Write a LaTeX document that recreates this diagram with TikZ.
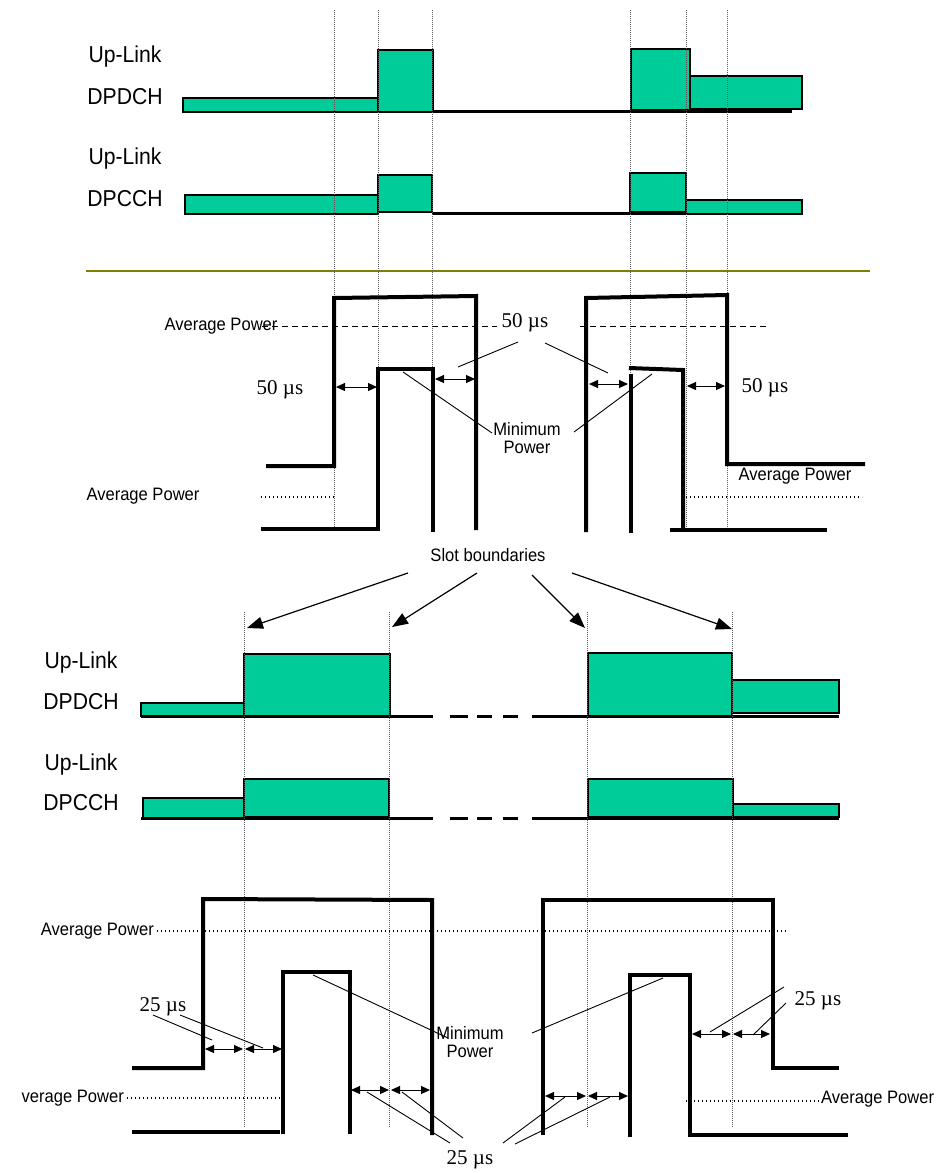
\documentclass[tikz,border=0pt]{standalone}
\usepackage{fontspec}
\usepackage{graphicx}
\setmainfont{Liberation Sans}
\newfontfamily\serifmu{Liberation Serif}
\usetikzlibrary{arrows.meta}
\definecolor{chgreen}{RGB}{0,204,153}
\definecolor{olivebar}{RGB}{128,128,0}
\newcommand\ulfont{\fontsize{23}{26}\selectfont}
\newcommand\apfont{\fontsize{18}{20}\selectfont}
\newcommand\usfont{\serifmu\fontsize{21}{24}\selectfont}
\newcommand\cnd[1]{\scalebox{0.92}[1]{#1}}
\begin{document}
\begin{tikzpicture}[x=1pt,y=-1pt,
  pulse/.style={line width=4pt, line join=miter},
  bar/.style={fill=chgreen, draw=black, line width=1.3pt},
  baseln/.style={line width=3pt},
  slotln/.style={line width=0.8pt, gray!70!black, dash pattern=on 1pt off 1pt},
  avgdash/.style={line width=0.9pt, dash pattern=on 6pt off 4pt},
  avgdot/.style={line width=1.3pt, dash pattern=on 1.3pt off 2.7pt},
  lead/.style={line width=0.9pt},
  dbl/.style={line width=1pt, {Triangle[length=9pt,width=8pt]}-{Triangle[length=9pt,width=8pt]}},
  slotarr/.style={line width=1.2pt, -{Triangle[length=16pt,width=12pt]}},
  ul/.style={font=\ulfont, inner sep=0pt},
  ap/.style={font=\apfont, inner sep=0pt, align=center},
  us/.style={font=\usfont, inner sep=0pt},
]
\useasboundingbox[fill=white] (0,0) rectangle (936,1173);

% ===== top bars =====
\node[ul] (ul1) at (125,57) {\cnd{Up-Link}};
\node[ul] (dp1) at (125,97) {\cnd{DPDCH}};
\node[ul] (ul2) at (125,159) {\cnd{Up-Link}};
\node[ul] (dc1) at (125,199) {\cnd{DPCCH}};

\draw[baseln] (433,111) -- (792,111);
\draw[bar] (183,98) rectangle (378,112);
\draw[bar] (378,50) rectangle (433,112);
\draw[bar] (631,49) rectangle (690,110);
\draw[bar] (690,76) rectangle (802,109);

\draw[baseln] (432,213) -- (686,213);
\draw[bar] (185,195) rectangle (378,214);
\draw[bar] (378,175) rectangle (432,212);
\draw[bar] (683,200) rectangle (802,214);
\draw[bar] (630,173) rectangle (686,212);

\draw[olivebar, line width=2pt] (86,271) -- (870,271);

% ===== middle power =====
\foreach \x in {334,378,432,630,686,727} \draw[slotln] (\x,10) -- (\x,530);

\draw[avgdash] (262,326) -- (497,326);
\draw[avgdash] (580,326) -- (768,326);
\node[ap] (avgA) at (221,326) {\cnd{Average Power}};
\node[ap] (avgB) at (143,496) {\cnd{Average Power}};
\node[ap] (avgC) at (795,476) {\cnd{Average Power}};
\draw[avgdot] (261,497) -- (334,497);
\draw[avgdot] (686,497) -- (862,497);

\draw[pulse] (266,466) -- (334,466) -- (334,298) -- (476,296) -- (476,530);
\draw[pulse] (261,529) -- (378,529) -- (378,369) -- (433,369) -- (433,532);
\draw[pulse] (586,532) -- (586,298) -- (727,295) -- (727,464) -- (865,464);
\draw[pulse] (631,533) -- (631,374);
\draw[pulse] (629,368) -- (683,370) -- (683,530);
\draw[pulse] (670,530) -- (827,530);

\node[us] (m50a) at (280,390) {50 µs};
\node[us] (m50b) at (525,323) {50 µs};
\node[us] (m50c) at (765,388) {50 µs};
\node[ap] (minA) at (527,438) {\cnd{Minimum}\\[-2pt]\cnd{Power}};

\draw[dbl] (336,387) -- (377,387);
\draw[dbl] (435,379) -- (475,379);
\draw[dbl] (589,384) -- (628,384);
\draw[dbl] (687,386) -- (725,386);

\coordinate (l1) at (458,367);
\coordinate (l2) at (608,373);
\coordinate (l3) at (403,372);
\coordinate (l4) at (652,374);
\draw[lead] (518,342) -- (l1);
\draw[lead] (545,343) -- (l2);
\draw[lead] (l3) -- (492,433);
\draw[lead] (574,432) -- (l4);

% ===== slot boundaries =====
\node[ap] (slot) at (488,555) {\cnd{Slot boundaries}};
\coordinate (s1) at (247,628);
\coordinate (s2) at (392,627);
\coordinate (s3) at (585,628);
\coordinate (s4) at (732,629);
\draw[slotarr] (408,573) -- (s1);
\draw[slotarr] (477,573) -- (s2);
\draw[slotarr] (532,575) -- (s3);
\draw[slotarr] (572,573) -- (s4);

% ===== bottom bars =====
\node[ul] (ul3) at (81,663) {\cnd{Up-Link}};
\node[ul] (dp2) at (81,702) {\cnd{DPDCH}};
\node[ul] (ul4) at (81,765) {\cnd{Up-Link}};
\node[ul] (dc2) at (81,803) {\cnd{DPCCH}};

\foreach \yy in {716,818} {
  \draw[baseln] (141,\yy) -- (433,\yy);
  \draw[baseln] (450,\yy) -- (468,\yy);
  \draw[baseln] (477,\yy) -- (492,\yy);
  \draw[baseln] (503,\yy) -- (518,\yy);
  \draw[baseln] (532,\yy) -- (839,\yy);
}
\draw[bar] (141,703) rectangle (244,716);
\draw[bar] (244,654) rectangle (390,716);
\draw[bar] (588,653) rectangle (732,716);
\draw[bar] (732,680) rectangle (839,713);

\draw[bar] (143,798) rectangle (244,818);
\draw[bar] (244,779) rectangle (389,817);
\draw[bar] (588,779) rectangle (733,817);
\draw[bar] (733,804) rectangle (839,817);

% ===== bottom power =====
\foreach \x in {244,389,587,732} \draw[slotln] (\x,612) -- (\x,1128);

\node[ap, anchor=east] (avgD) at (154,931) {\cnd{Average Power}};
\node[ap, anchor=east] (avgE) at (124,1098) {\cnd{verage Power}};
\node[ap, anchor=west] (avgF) at (821,1099) {\cnd{Average Power}};
\draw[avgdot] (157,931) -- (787,931);
\draw[avgdot] (127,1098) -- (282,1098);
\draw[avgdot] (686,1101) -- (820,1101);

\draw[pulse] (132,1068) -- (203,1068) -- (203,899) -- (432,900) -- (432,1135);
\draw[pulse] (132,1132) -- (280,1132);
\draw[pulse] (283,1134) -- (283,972) -- (350,972) -- (350,1134);
\draw[pulse] (543,1135) -- (543,900) -- (773,900) -- (773,1068) -- (839,1068);
\draw[pulse] (630,1137) -- (630,975) -- (690,975) -- (690,1135) -- (848,1135);

\draw[dbl] (205,1049) -- (243,1049);
\draw[dbl] (245,1049) -- (282,1049);
\draw[dbl] (351,1090) -- (389,1090);
\draw[dbl] (391,1090) -- (430,1090);
\draw[dbl] (545,1096) -- (586,1096);
\draw[dbl] (588,1096) -- (628,1096);
\draw[dbl] (692,1034) -- (731,1034);
\draw[dbl] (733,1034) -- (770,1034);

\node[us] (b25a) at (163,1007) {25 µs};
\node[us] (b25b) at (818,1001) {25 µs};
\node[us] (b25c) at (470,1160) {25 µs};
\node[ap] (minB) at (470,1042) {\cnd{Minimum}\\[-2pt]\cnd{Power}};

\draw[lead] (153,1015) -- (212,1040);
\draw[lead] (180,1015) -- (263,1048);
\draw[lead] (784,987) -- (710,1032);
\draw[lead] (786,1003) -- (753,1035);
\draw[lead] (367,1092) -- (450,1143);
\draw[lead] (402,1092) -- (463,1138);
\draw[lead] (565,1097) -- (503,1143);
\draw[lead] (610,1097) -- (515,1144);
\draw[lead] (313,975) -- (448,1038);
\draw[lead] (532,1033) -- (663,978);
\end{tikzpicture}
\end{document}
